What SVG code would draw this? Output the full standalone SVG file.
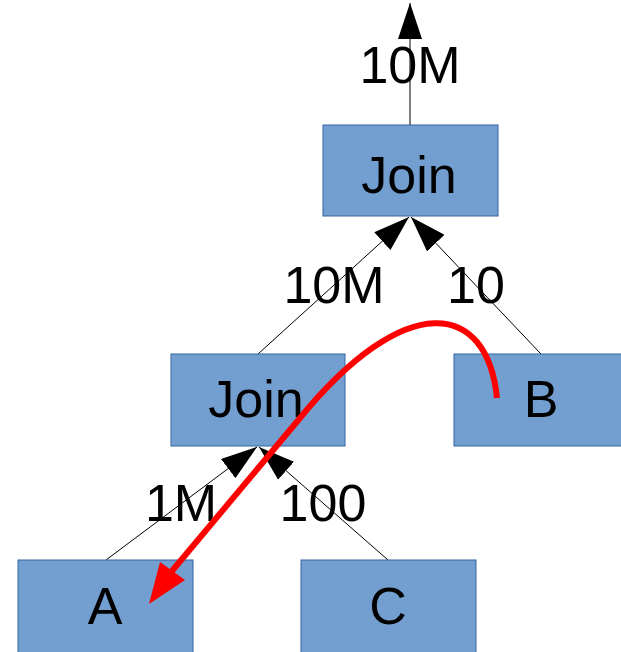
<svg xmlns="http://www.w3.org/2000/svg" width="621" height="652" viewBox="0 0 621 652">
<defs>
<style>
.box{fill:#729fcf;stroke:#3465a4;stroke-width:1}
.t{font-family:"Liberation Sans",Arial,sans-serif;font-size:52px;fill:#000;text-anchor:middle}
.e{stroke:#000;stroke-width:1;fill:none;marker-end:url(#ah)}
</style>
<marker id="ah" markerUnits="userSpaceOnUse" markerWidth="37" markerHeight="24" refX="36" refY="12" orient="auto">
<path d="M0,0 L36,12 L0,24 z" fill="#000"/>
</marker>
</defs>
<rect width="621" height="652" fill="#fff"/>
<g id="connectors">
<line class="e" x1="410" y1="125" x2="410" y2="3"/>
<line class="e" x1="258" y1="354" x2="409" y2="217"/>
<line class="e" x1="541" y1="354" x2="411" y2="217"/>
<line class="e" x1="106" y1="560" x2="257" y2="447"/>
<line class="e" x1="388" y1="560" x2="259" y2="447"/>
<text class="t" x="410" y="83">10M</text>
<text class="t" x="334" y="303">10M</text>
<text class="t" x="476" y="303">10</text>
<text class="t" x="181" y="521">1M</text>
<text class="t" x="323" y="521">100</text>
</g>
<g id="join-top"><rect class="box" x="323" y="125" width="175" height="91"/><text class="t" x="409" y="193">Join</text></g>
<g id="join-mid"><rect class="box" x="171" y="354" width="174" height="92"/><text class="t" x="256" y="417">Join</text></g>
<g id="B"><rect class="box" x="454" y="354" width="170" height="92"/><text class="t" x="541" y="417">B</text></g>
<g id="A"><rect class="box" x="18" y="560" width="175" height="95"/><text class="t" x="105" y="624">A</text></g>
<g id="C"><rect class="box" x="301" y="560" width="175" height="95"/><text class="t" x="388" y="624">C</text></g>
<g id="red-arrow">
<path d="M497,398 C487,300 405,290 300,418 L172,571" fill="none" stroke="#ff0000" stroke-width="6"/>
<polygon points="149,604 160,562 185,580" fill="#ff0000"/>
</g>
</svg>
